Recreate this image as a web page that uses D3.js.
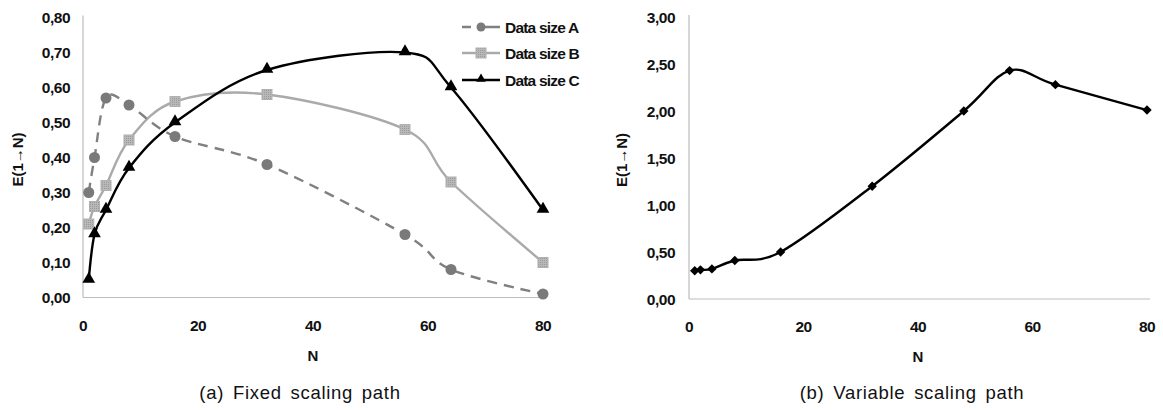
<!DOCTYPE html>
<html><head><meta charset="utf-8">
<script src="https://cdn.jsdelivr.net/npm/d3@7"></script>
<style>
body{margin:0;background:#fff;}
text{font-family:"Liberation Sans",Arial,sans-serif;}
</style></head>
<body><svg id="c" width="1163" height="410"></svg>
<script>
const nA = [1,2,4,8,16,32,56,64,80];
const seriesA = [0.30,0.40,0.57,0.55,0.46,0.38,0.18,0.08,0.01];
const seriesB = [0.21,0.26,0.32,0.45,0.56,0.58,0.48,0.33,0.10];
const seriesC = [0.05,0.18,0.25,0.37,0.50,0.65,0.70,0.60,0.25];
const nB = [1,2,4,8,16,32,48,56,64,80];
const seriesV = [0.30,0.31,0.32,0.41,0.50,1.20,2.00,2.43,2.28,2.01];
const xTicks = [0,20,40,60,80];
const yTicksA = [0,0.1,0.2,0.3,0.4,0.5,0.6,0.7,0.8];
const yTicksB = [0,0.5,1,1.5,2,2.5,3];
const legendNames = ["Data size A","Data size B","Data size C"];
const captions = ["(a) Fixed scaling path","(b) Variable scaling path"];

const svg = d3.select("#c");
const fmt = v => d3.format(".2f")(v).replace(".", ",");
const curve = d3.curveCardinal.tension(0);

const defs = svg.append("defs");
const pat = defs.append("pattern").attr("id","sq").attr("width",2).attr("height",2).attr("patternUnits","userSpaceOnUse");
pat.append("rect").attr("width",2).attr("height",2).attr("fill","#b8b8b8");
pat.append("rect").attr("width",1).attr("height",1).attr("fill","#9a9a9a");

function panel(x0,x1,y0,y1,ymax,yTicks,labelX,tickRight){
  const x = d3.scaleLinear().domain([0,80]).range([x0,x1]);
  const y = d3.scaleLinear().domain([0,ymax]).range([y0,y1]);
  const g = svg.append("g");
  g.append("line").attr("x1",x0).attr("x2",x0).attr("y1",y0).attr("y2",y1-2).attr("stroke","#bdbdbd").attr("stroke-width",1.2);
  g.append("line").attr("x1",x0).attr("x2",x1+3).attr("y1",y0).attr("y2",y0).attr("stroke","#bdbdbd").attr("stroke-width",1.2);
  g.selectAll(".yt").data(yTicks).enter().append("text")
    .attr("x",tickRight).attr("y",d=>y(d)+5.5).attr("text-anchor","end")
    .attr("font-size",15.5).attr("font-weight","bold").attr("letter-spacing",-0.5).attr("fill","#111").text(fmt);
  g.selectAll(".xt").data(xTicks).enter().append("text")
    .attr("x",d=>x(d)).attr("y",y0+33).attr("text-anchor","middle")
    .attr("font-size",15.5).attr("font-weight","bold").attr("letter-spacing",-0.5).attr("fill","#111").text(d=>d);
  g.append("text").attr("x",(x0+x1)/2).attr("y",y0+63).attr("text-anchor","middle")
    .attr("font-size",15).attr("font-weight","bold").attr("fill","#111").text("N");
  g.append("text").attr("transform",`translate(${labelX},${(y0+y1)/2+2}) rotate(-90)`)
    .attr("text-anchor","middle").attr("font-size",15).attr("font-weight","bold").attr("fill","#111").text("E(1\u2192N)");
  return {x,y,g};
}

const L = panel(83,543,297.5,17.5,0.8,yTicksA,23,70);
const lineL = d3.line().x(d=>L.x(d[0])).y(d=>L.y(d[1])).curve(curve);
const dA = nA.map((n,i)=>[n,seriesA[i]]);
const dB = nA.map((n,i)=>[n,seriesB[i]]);
const dC = nA.map((n,i)=>[n,seriesC[i]]);

L.g.append("path").datum(dB).attr("d",lineL).attr("fill","none").attr("stroke","#aaaaaa").attr("stroke-width",2.4);
L.g.append("path").datum(dA).attr("d",lineL).attr("fill","none").attr("stroke","#808080").attr("stroke-width",2.4).attr("stroke-dasharray","10,7");
L.g.append("path").datum(dC).attr("d",lineL).attr("fill","none").attr("stroke","#000").attr("stroke-width",2.4);

L.g.selectAll(".ma").data(dA).enter().append("circle").attr("cx",d=>L.x(d[0])).attr("cy",d=>L.y(d[1])).attr("r",5.5).attr("fill","#7a7a7a");
L.g.selectAll(".mb").data(dB).enter().append("rect").attr("x",d=>L.x(d[0])-5).attr("y",d=>L.y(d[1])-5).attr("width",10).attr("height",10).attr("fill","url(#sq)").attr("stroke","#b0b0b0").attr("stroke-width",1);
const tri = d3.symbol().type(d3.symbolTriangle).size(70);
L.g.selectAll(".mc").data(dC).enter().append("path").attr("d",tri).attr("transform",d=>`translate(${L.x(d[0])},${L.y(d[1])-1})`).attr("fill","#000");

const leg = svg.append("g");
const legY = [27,53,80];
const legStyle = ["#808080","#aaaaaa","#000"];
legendNames.forEach((nm,i)=>{
  const yy = legY[i];
  const ln = leg.append("line").attr("x1",462).attr("x2",500).attr("y1",yy).attr("y2",yy).attr("stroke",legStyle[i]).attr("stroke-width",2.4);
  if(i===0){ ln.attr("stroke-dasharray","9,10,20"); }
  if(i===0) leg.append("circle").attr("cx",481).attr("cy",yy).attr("r",4.5).attr("fill","#7a7a7a");
  if(i===1) leg.append("rect").attr("x",476).attr("y",yy-5).attr("width",10).attr("height",10).attr("fill","url(#sq)").attr("stroke","#b0b0b0");
  if(i===2) leg.append("path").attr("d",d3.symbol().type(d3.symbolTriangle).size(40)).attr("transform",`translate(481,${yy-1})`).attr("fill","#000");
  leg.append("text").attr("x",505).attr("y",yy+5.5).attr("font-size",15.5).attr("font-weight","bold").attr("letter-spacing",-0.8).attr("fill","#111").text(nm);
});

const R = panel(689,1147,299,17,3,yTicksB,627,675);
const lineR = d3.line().x(d=>R.x(d[0])).y(d=>R.y(d[1])).curve(curve);
const dV = nB.map((n,i)=>[n,seriesV[i]]);
R.g.append("path").datum(dV).attr("d",lineR).attr("fill","none").attr("stroke","#000").attr("stroke-width",2.4);
const dia = d3.symbol().type(d3.symbolSquare).size(44);
R.g.selectAll(".mv").data(dV).enter().append("path").attr("d",dia).attr("transform",d=>`translate(${R.x(d[0])},${R.y(d[1])}) rotate(45)`).attr("fill","#000");

svg.append("text").attr("x",300).attr("y",399).attr("text-anchor","middle").attr("font-size",18.5).attr("letter-spacing",0.7).attr("word-spacing",3).attr("fill","#111").text(captions[0]);
svg.append("text").attr("x",912).attr("y",399).attr("text-anchor","middle").attr("font-size",18.5).attr("letter-spacing",0.7).attr("word-spacing",3).attr("fill","#111").text(captions[1]);
</script></body></html>
